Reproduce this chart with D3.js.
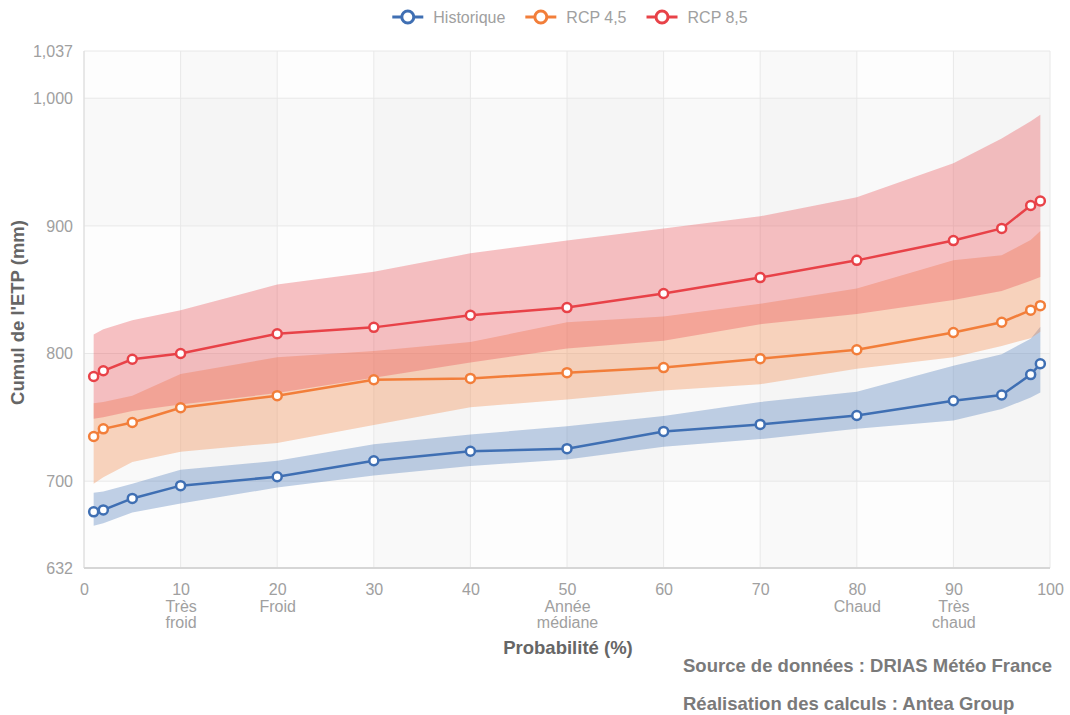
<!DOCTYPE html>
<html>
<head>
<meta charset="utf-8">
<script src="https://cdn.jsdelivr.net/npm/d3@7"></script>
<style>
  body { margin: 0; background: #fff; }
  svg { display: block; font-family: 'Liberation Sans', Arial, sans-serif; }
</style>
</head>
<body>
<svg width="1070" height="715"></svg>
<script>
// probabilities (%) where each series has a point
const probs = [1, 2, 5, 10, 20, 30, 40, 50, 60, 70, 80, 90, 95, 98, 99]

const hist = [676, 677.5, 686.5, 696.5, 703.5, 716, 723.5, 725.5, 739, 744.5, 751.5, 763, 767.5, 783.5, 792]
const histLow = [665, 667, 675.5, 682.5, 695, 704.5, 712, 717, 727, 733, 741, 747.5, 756.5, 765.5, 769.5]
const histHigh = [691, 692, 698, 709, 716, 729, 736.5, 743, 751, 762, 770, 790.5, 799.5, 811.5, 821]

const rcp45 = [735, 741, 746, 757.5, 767, 779.5, 780.5, 785, 789, 796, 803, 816.5, 824.5, 834, 837.5]
const rcp45Low = [698, 703, 715, 723, 730, 744, 758, 764, 771, 776, 788, 797, 806, 812, 817]
const rcp45High = [761, 762, 767, 784, 797, 802, 809, 824.5, 829, 839, 851, 873, 877, 889, 896]

const rcp85 = [782, 786.5, 795.5, 800, 815.5, 820.5, 830, 836, 847, 859.5, 873, 888.5, 898, 916, 919.5]
const rcp85Low = [749, 750, 755, 760, 769, 781, 793, 804, 810, 823, 831, 842, 849, 857, 860]
const rcp85High = [815, 819, 826, 834, 854, 864, 878.5, 888.5, 898, 907.5, 922.5, 949, 968.5, 982, 987]

const seriesNames = ['Historique', 'RCP 4,5', 'RCP 8,5']
const seriesColors = ['#3f6fb3', '#f27e3a', '#e84248']

const xTicks = [0, 10, 20, 30, 40, 50, 60, 70, 80, 90, 100]
const xSubLabels = { 10: ['Très', 'froid'], 20: ['Froid'], 50: ['Année', 'médiane'], 80: ['Chaud'], 90: ['Très', 'chaud'] }
const yTicks = [632, 700, 800, 900, 1000, 1037]

const svg = d3.select('svg')
const plot = { left: 84, right: 1050, top: 51, bottom: 568 }

const x = d3.scaleLinear().domain([0, 100]).range([plot.left, plot.right])
const y = d3.scaleLinear().domain([632, 1037]).range([plot.bottom, plot.top])

// background: base + alternating column and row bands
svg.append('rect').attr('x', plot.left).attr('y', plot.top)
  .attr('width', plot.right - plot.left).attr('height', plot.bottom - plot.top)
  .attr('fill', '#fdfdfd')

const shade = 'rgba(0,0,0,0.015)'
d3.range(1, xTicks.length - 1, 2).forEach(i => {
  svg.append('rect').attr('x', x(xTicks[i])).attr('y', plot.top)
    .attr('width', x(xTicks[i + 1]) - x(xTicks[i])).attr('height', plot.bottom - plot.top)
    .attr('fill', shade)
})
d3.range(1, yTicks.length - 1, 2).forEach(i => {
  svg.append('rect').attr('x', plot.left).attr('y', y(yTicks[i + 1]))
    .attr('width', plot.right - plot.left).attr('height', y(yTicks[i]) - y(yTicks[i + 1]))
    .attr('fill', shade)
})

// grid
const grid = svg.append('g').attr('stroke', '#e8e8e8').attr('stroke-width', 1)
xTicks.forEach(t => {
  grid.append('line').attr('x1', x(t)).attr('x2', x(t)).attr('y1', plot.top).attr('y2', plot.bottom)
})
yTicks.forEach(t => {
  grid.append('line').attr('x1', plot.left).attr('x2', plot.right).attr('y1', y(t)).attr('y2', y(t))
})

// bands
const series = [
  { vals: hist, low: histLow, high: histHigh },
  { vals: rcp45, low: rcp45Low, high: rcp45High },
  { vals: rcp85, low: rcp85Low, high: rcp85High },
]
const area = d3.area().x(d => x(d.p)).y0(d => y(d.lo)).y1(d => y(d.hi))
const line = d3.line().x(d => x(d.p)).y(d => y(d.v))

series.forEach((s, i) => {
  const pts = probs.map((p, j) => ({ p, lo: s.low[j], hi: s.high[j] }))
  svg.append('path').attr('d', area(pts))
    .attr('fill', seriesColors[i]).attr('fill-opacity', 0.32)
})

// axis lines
svg.append('line').attr('x1', plot.left).attr('x2', plot.left)
  .attr('y1', plot.top).attr('y2', plot.bottom).attr('stroke', '#dcdcdc')
svg.append('line').attr('x1', plot.left).attr('x2', plot.right)
  .attr('y1', plot.bottom).attr('y2', plot.bottom).attr('stroke', '#d6d6d6').attr('stroke-width', 2)

// lines + markers
series.forEach((s, i) => {
  const pts = probs.map((p, j) => ({ p, v: s.vals[j] }))
  const g = svg.append('g')
  g.append('path').attr('d', line(pts))
    .attr('fill', 'none').attr('stroke', seriesColors[i]).attr('stroke-width', 2.5)
  g.selectAll('circle').data(pts).join('circle')
    .attr('cx', d => x(d.p)).attr('cy', d => y(d.v)).attr('r', 4.5)
    .attr('fill', '#fff').attr('stroke', seriesColors[i]).attr('stroke-width', 2.5)
})

// axes
const yAxis = svg.append('g').attr('transform', `translate(${plot.left},0)`)
  .call(d3.axisLeft(y).tickValues(yTicks).tickFormat(d3.format(',')).tickSize(0).tickPadding(11))
yAxis.select('.domain').remove()
yAxis.selectAll('text').attr('font-size', 16).attr('fill', '#a0a0a0').attr('font-family', null)

const xAxis = svg.append('g').attr('transform', `translate(0,${plot.bottom})`)
  .call(d3.axisBottom(x).tickValues(xTicks).tickSize(0).tickPadding(16))
xAxis.select('.domain').remove()
xAxis.selectAll('text').attr('font-size', 16).attr('fill', '#a0a0a0').attr('font-family', null)
  .each(function (d) {
    const subs = xSubLabels[d] || []
    subs.forEach((s, k) => {
      d3.select(this).append('tspan').attr('x', 0).attr('dy', k === 0 ? '1.05em' : '1em').text(s)
    })
  })

// titles
svg.append('text').attr('x', 568).attr('y', 654).attr('text-anchor', 'middle')
  .attr('font-size', 18.5).attr('font-weight', 'bold').attr('fill', '#666')
  .text('Probabilité (%)')
svg.append('text').attr('transform', `translate(24,${(plot.top + plot.bottom) / 2 + 3}) rotate(-90)`)
  .attr('text-anchor', 'middle')
  .attr('font-size', 18.5).attr('font-weight', 'bold').attr('fill', '#666')
  .text("Cumul de l'ETP (mm)")

svg.append('text').attr('x', 683).attr('y', 672)
  .attr('font-size', 18.5).attr('font-weight', 'bold').attr('fill', '#7a7a7a')
  .text('Source de données : DRIAS Météo France')
svg.append('text').attr('x', 683).attr('y', 710)
  .attr('font-size', 18.5).attr('font-weight', 'bold').attr('fill', '#7a7a7a')
  .text('Réalisation des calculs : Antea Group')

// legend
const legend = svg.append('g')
let lx = 0
seriesNames.forEach((name, i) => {
  const item = legend.append('g').attr('transform', `translate(${lx},0)`)
  item.append('line').attr('x1', 0).attr('x2', 31).attr('y1', 0).attr('y2', 0)
    .attr('stroke', seriesColors[i]).attr('stroke-width', 3)
  item.append('circle').attr('cx', 15.5).attr('cy', 0).attr('r', 6)
    .attr('fill', '#fff').attr('stroke', seriesColors[i]).attr('stroke-width', 3)
  const t = item.append('text').attr('x', 41).attr('y', 5.5)
    .attr('font-size', 16).attr('fill', '#a0a0a0').text(name)
  lx += 41 + t.node().getComputedTextLength() + 20
})
const legendW = lx - 20
legend.attr('transform', `translate(${570 - legendW / 2},17)`)
</script>
</body>
</html>
